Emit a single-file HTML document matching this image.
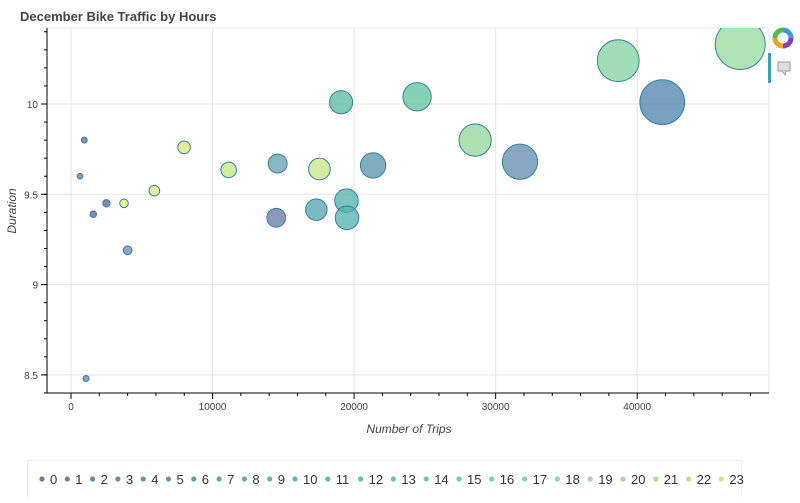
<!DOCTYPE html>
<html><head><meta charset="utf-8"><style>
body{margin:0;background:#fff;width:800px;height:498px;overflow:hidden;font-family:"Liberation Sans",sans-serif}
</style></head><body>
<svg width="800" height="498" id="chart" font-family="Liberation Sans, sans-serif">
<text x="20" y="21" font-size="13" font-weight="bold" fill="#444">December Bike Traffic by Hours</text>
<defs><clipPath id="clip"><rect x="47" y="28" width="722" height="365"/></clipPath></defs>
<rect x="47" y="28" width="722" height="365" fill="#fff" stroke="#e5e5e5"/>
<g id="grid"></g>
<g id="marks" clip-path="url(#clip)"></g>
<g id="axes"></g>
<text x="409" y="433" font-size="12" font-style="italic" fill="#444" text-anchor="middle">Number of Trips</text>
<text transform="translate(16,211) rotate(-90)" font-size="12" font-style="italic" fill="#444" text-anchor="middle">Duration</text>
<g transform="translate(783,38)">
<path d="M0,-8 A8,8 0 0 1 8,0" stroke="#3b9be0" stroke-width="5" fill="none"/>
<path d="M8,0 A8,8 0 0 1 0,8" stroke="#8a3fb0" stroke-width="5" fill="none"/>
<path d="M0,8 A8,8 0 0 1 -8,0" stroke="#f2a12b" stroke-width="5" fill="none"/>
<path d="M-8,0 A8,8 0 0 1 0,-8" stroke="#4cbf4a" stroke-width="5" fill="none"/>
</g>
<g><rect x="778" y="62" width="12" height="9" fill="#ddd" stroke="#999"/><path d="M782,71 L785,75 L786,71" fill="#ddd" stroke="#999"/></g>
<rect x="768" y="53" width="3" height="30" fill="#3aa0b8"/>
<rect x="27.5" y="460.5" width="714" height="40" fill="#fff" stroke="#eee"/>
<g id="legend"></g>
</svg>
<script>
const trips=[940,636,1576,2500,3745,4000,1060,5890,7990,11140,14600,14500,17550,17330,19460,19500,19080,21340,24450,28550,31720,38660,41770,47280];
const durations=[9.80,9.60,9.39,9.45,9.45,9.19,8.48,9.52,9.76,9.635,9.67,9.37,9.64,9.415,9.465,9.37,10.01,9.66,10.04,9.80,9.68,10.24,10.01,10.33];
const pointColors=["#5a6a9e","#5c7aa6","#5d5f9e","#5d5f9e","#e3ec7a","#6a86be","#6a7fb4","#e3ec7a","#d8ea78","#c6e67c","#5f9eb0","#6476a6","#c4e67f","#4fa3ad","#4fb0aa","#4fb0aa","#55b8a0","#5292a8","#5ec09c","#8dd698","#5f88ad","#7fd19e","#4c82aa","#92da9c"];
const hours=["0","1","2","3","4","5","6","7","8","9","10","11","12","13","14","15","16","17","18","19","20","21","22","23"];
const legendColors=["#46588a","#4a5e92","#4a6596","#4a6c9a","#4a739c","#4a7b9e","#4a839f","#4a8aa0","#4a91a0","#4a98a0","#4a9fa0","#4aa69e","#4aac9c","#4ab39a","#4eb996","#55be92","#5ec38e","#6ac78a","#76cb86","#84cf82","#92d37e","#a2d67a","#b2d976","#c2dc72"];
const xTicks=[0,10000,20000,30000,40000];
const yTicks=[8.5,9,9.5,10];
const NS="http://www.w3.org/2000/svg";
const X=v=>71+v*0.014155, Y=v=>104+(10-v)*180.6;
function el(tag,attrs,parent){const e=document.createElementNS(NS,tag);for(const k in attrs)e.setAttribute(k,attrs[k]);parent.appendChild(e);return e;}
const grid=document.getElementById('grid'),axes=document.getElementById('axes'),marks=document.getElementById('marks'),legend=document.getElementById('legend');
xTicks.forEach(t=>{const g=el('line',{x1:X(t),x2:X(t),y1:28,y2:393,stroke:'#e5e5e5'},grid);


const tl=el('text',{x:X(t),y:410,'font-size':10,fill:'#444','text-anchor':'middle'},axes);tl.textContent=t;


el('line',{x1:X(t),x2:X(t),y1:393,y2:399,stroke:'#000'},axes);});
for(let t=0;t<=48000;t+=2000){if(t%10000)el('line',{x1:X(t),x2:X(t),y1:393,y2:396,stroke:'#000'},axes);}
yTicks.forEach(t=>{const g=el('line',{x1:47,x2:769,y1:Y(t),y2:Y(t),stroke:'#e5e5e5'},grid);


const tl=el('text',{x:38,y:Y(t)+4,'font-size':10,fill:'#444','text-anchor':'end'},axes);tl.textContent=t;


el('line',{x1:41,x2:47,y1:Y(t),y2:Y(t),stroke:'#000'},axes);});
for(let t=8.4;t<=10.41;t+=0.1){el('line',{x1:44,x2:47,y1:Y(t),y2:Y(t),stroke:'#000'},axes);}
el('line',{x1:47,x2:47,y1:28,y2:393,stroke:'#000'},axes);
el('line',{x1:47,x2:769,y1:393,y2:393,stroke:'#000'},axes);
trips.forEach((v,i)=>{const c=el('circle',{cx:X(v),cy:Y(durations[i]),r:2.5+v/2100,fill:pointColors[i],'fill-opacity':0.75,stroke:'#3a7f9a','stroke-width':1},marks);

});
let lx=42;
hours.forEach((h,i)=>{const c=el('circle',{cx:lx,cy:479,r:2.6,fill:legendColors[i],'fill-opacity':0.8},legend);


const t=el('text',{x:lx+8,y:484,'font-size':13,fill:'#333'},legend);t.textContent=h;


lx+=h.length>1?32.8:25.3;});
</script>
</body></html>
